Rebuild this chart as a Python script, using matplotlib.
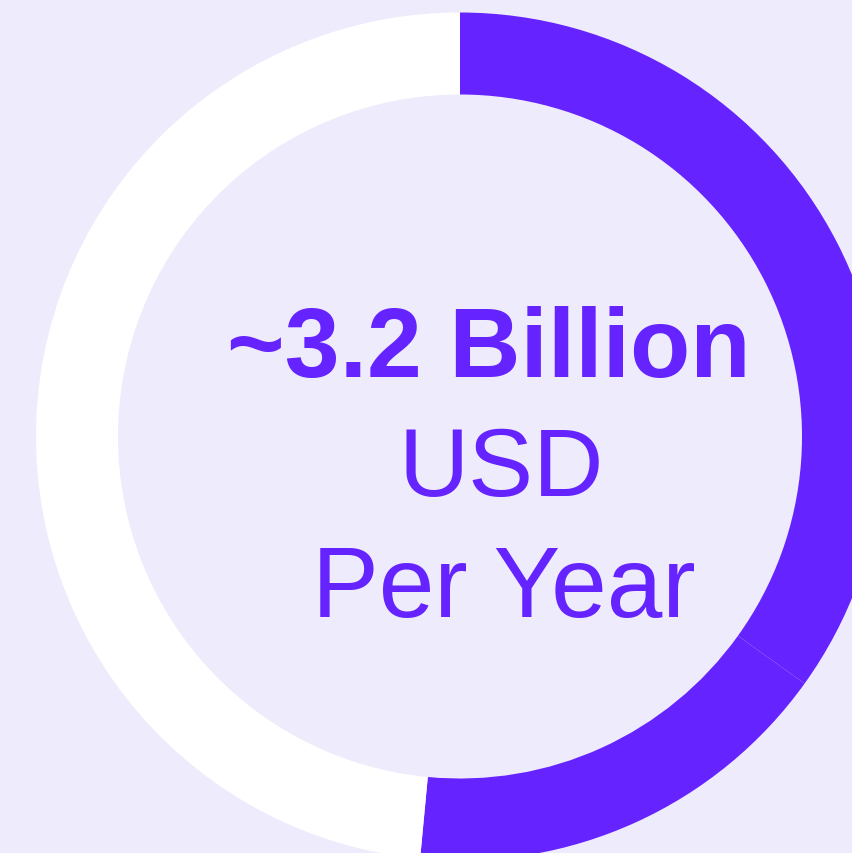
import matplotlib.pyplot as plt

# Données du donut (parts en %)
labels = ['Segment A', 'Segment B', 'Reste']
values = [34.9, 16.6, 48.5]
colors = ['#6523FF', '#6523FF', '#FFFFFF']

# Texte central
line1 = '~3.2 Billion'
line2 = 'USD'
line3 = 'Per Year'

bg = '#EEEBFC'
purple = '#6523FF'

fig = plt.figure(figsize=(8.53, 8.54), dpi=100, facecolor=bg)
ax = fig.add_axes([0, 0, 1, 1])
ax.set_facecolor(bg)

ax.pie(values, colors=colors, startangle=90, counterclock=False,
       center=(460, 416.5), radius=424,
       wedgeprops=dict(width=82, linewidth=0))

ax.set_xlim(0, 853)
ax.set_ylim(0, 854)
ax.set_aspect('equal')
ax.axis('off')

ax.text(489, 477.3, line1, ha='center', va='baseline', color=purple,
        fontsize=71, fontweight='bold', family='Liberation Sans')
ax.text(501, 358, line2, ha='center', va='baseline', color=purple,
        fontsize=70, family='Liberation Sans')
ax.text(504, 237, line3, ha='center', va='baseline', color=purple,
        fontsize=72, family='Liberation Sans')

fig.savefig('out.png', dpi=100, facecolor=bg)
plt.close(fig)
